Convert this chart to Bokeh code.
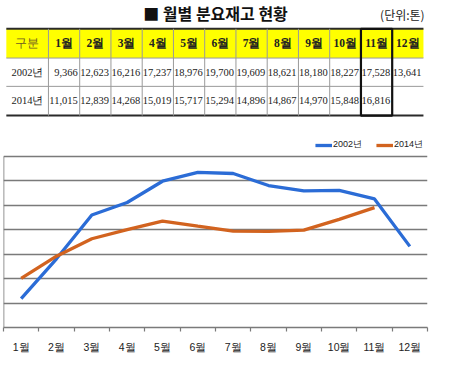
from bokeh.plotting import figure
from bokeh.layouts import column
from bokeh.models import (Range1d, LinearAxis, FixedTicker, Grid, Legend,
                          LegendItem, ColumnDataSource)
from bokeh.core.properties import value
from bokeh.embed import file_html
from bokeh.resources import INLINE

# ---------------- data ----------------
months = ["1월", "2월", "3월", "4월", "5월", "6월", "7월", "8월", "9월", "10월", "11월", "12월"]
years = ["2002년", "2014년"]
stock_2002 = [9366, 12623, 16216, 17237, 18976, 19700, 19609, 18621, 18180, 18227, 17528, 13641]
stock_2014 = [11015, 12839, 14268, 15019, 15717, 15294, 14896, 14867, 14970, 15848, 16816]
title_text = "■ 월별 분요재고 현황"
unit_text = "(단위:톤)"
corner_text = "구분"
highlight_month = 11
y_min, y_max, y_step = 7000, 21000, 2000

W = 434
TBL_H = 118
CH_H = 360 - TBL_H

SERIF = "Liberation Serif"
SANS = "Noto Sans CJK KR"
NARROW = "Liberation Sans"

# ---------------- table figure ----------------
t = figure(width=W, height=TBL_H, x_range=Range1d(0, 450), y_range=Range1d(123, 0),
           output_backend="svg", toolbar_location=None, min_border=0,
           x_axis_location=None, y_axis_location=None)
t.grid.visible = False
t.outline_line_color = None

first_left, first_right = 3.0, 47.7
table_right = 445.7
n = len(months)
step = (table_right - first_right) / n
edges = [first_right + step * i for i in range(n + 1)]
centers = [(edges[i] + edges[i + 1]) / 2 for i in range(n)]
row_top, row_h1, row_h2, row_bot = 29.5, 60.0, 89.5, 120.0

t.quad(left=[first_left], right=[table_right], top=[row_top], bottom=[row_h1],
       fill_color="#FFFF00", line_color=None)
t.segment(x0=[first_left, first_left], x1=[table_right, table_right],
          y0=[row_h1, row_h2], y1=[row_h1, row_h2], line_color="#9a9a9a", line_width=1)
t.segment(x0=[first_left, first_left], x1=[table_right, table_right],
          y0=[row_top, row_bot], y1=[row_top, row_bot], line_color="#2a2a2a", line_width=2)
t.segment(x0=edges[:-1], x1=edges[:-1], y0=[row_top] * n, y1=[row_bot] * n,
          line_color="#9a9a9a", line_width=1)
hi = highlight_month - 1
t.quad(left=[edges[hi]], right=[edges[hi + 1]], top=[row_top], bottom=[row_bot],
       fill_color=None, line_color="#111111", line_width=2.2)

t.text(x=[(first_left + first_right) / 2], y=[(row_top + row_h1) / 2], text=[corner_text],
       text_align="center", text_baseline="middle", text_font=value(SERIF),
       text_font_size="11.5px", text_color="#6e5a23")
t.text(x=centers, y=[(row_top + row_h1) / 2] * n, text=months,
       text_align="center", text_baseline="middle", text_font=value(SERIF),
       text_font_size="11.5px", text_font_style="bold", text_color="#222222")
t.text(x=[(first_left + first_right) / 2] * 2, y=[(row_h1 + row_h2) / 2, (row_h2 + row_bot) / 2],
       text=years, text_align="center", text_baseline="middle", text_font=value(SERIF),
       text_font_size="10.5px", text_color="#222222")
for vals, ymid in ((stock_2002, (row_h1 + row_h2) / 2), (stock_2014, (row_h2 + row_bot) / 2)):
    t.text(x=[edges[i + 1] - 2 for i in range(len(vals))], y=[ymid] * len(vals),
           text=[f"{v:,}" for v in vals], text_align="right", text_baseline="middle",
           text_font=value(SERIF), text_font_size="10.5px", text_color="#222222")

t.text(x=[225], y=[13.5], text=[title_text], text_align="center", text_baseline="middle",
       text_font=value(SANS), text_font_size="16px", text_font_style="bold", text_color="#111111")
t.text(x=[447], y=[15], text=[unit_text], text_align="right", text_baseline="middle",
       text_font=value(SANS), text_font_size="12px", text_color="#222222")

# ---------------- chart figure ----------------
TOP_PAD = 16
BOT_PAD = 33
frame_h = CH_H - TOP_PAD - BOT_PAD
units_per_px = (y_max - y_min) / (frame_h - (38 - TOP_PAD))
y_top = y_min + units_per_px * frame_h

p = figure(width=W, height=CH_H, x_range=Range1d(0.5, n + 0.5), y_range=Range1d(y_min, y_top),
           output_backend="svg", toolbar_location=None,
           min_border_left=3, min_border_right=7, min_border_top=TOP_PAD, min_border_bottom=BOT_PAD,
           x_axis_location=None, y_axis_location=None)
p.grid.visible = False
p.outline_line_color = None

xs = list(range(1, n + 1))
gtick = FixedTicker(ticks=list(range(y_min + y_step, y_max + 1, y_step)))
p.add_layout(Grid(dimension=1, ticker=gtick, grid_line_color="#7a7a7a", grid_line_width=1.6))
p.segment(x0=[p.x_range.start], x1=[p.x_range.start], y0=[y_min], y1=[y_max],
          line_color="#7a7a7a", line_width=1.6)

xaxis = LinearAxis(ticker=FixedTicker(ticks=xs, minor_ticks=[i + 0.5 for i in range(n + 1)]),
                   major_label_overrides={i + 1: m for i, m in enumerate(months)},
                   major_tick_line_color=None, major_tick_out=0, major_tick_in=0,
                   minor_tick_line_color="#7a7a7a", minor_tick_out=4, minor_tick_in=0,
                   minor_tick_line_width=1.2,
                   axis_line_color="#7a7a7a", axis_line_width=1.6,
                   major_label_standoff=9, major_label_text_font=NARROW,
                   major_label_text_font_size="10.5px", major_label_text_color="#222222")
p.add_layout(xaxis, "below")

src02 = ColumnDataSource(dict(x=xs, y=stock_2002))
src14 = ColumnDataSource(dict(x=xs[:len(stock_2014)], y=stock_2014))
r02 = p.line("x", "y", source=src02, line_color="#2B6CD6", line_width=3.3)
r14 = p.line("x", "y", source=src14, line_color="#D2631F", line_width=3.3)

legend = Legend(items=[LegendItem(label="2002년", renderers=[r02]),
                       LegendItem(label="2014년", renderers=[r14])],
                location="top_right", orientation="horizontal",
                label_text_font=NARROW, label_text_font_size="9px", label_text_color="#222222",
                glyph_width=17, glyph_height=8, label_standoff=1, spacing=14,
                padding=0, margin=4, border_line_color=None, background_fill_alpha=0,
                label_height=10)
p.add_layout(legend, "center")

layout = column(t, p, spacing=0)
open("out.html", "w").write(file_html(layout, INLINE))
